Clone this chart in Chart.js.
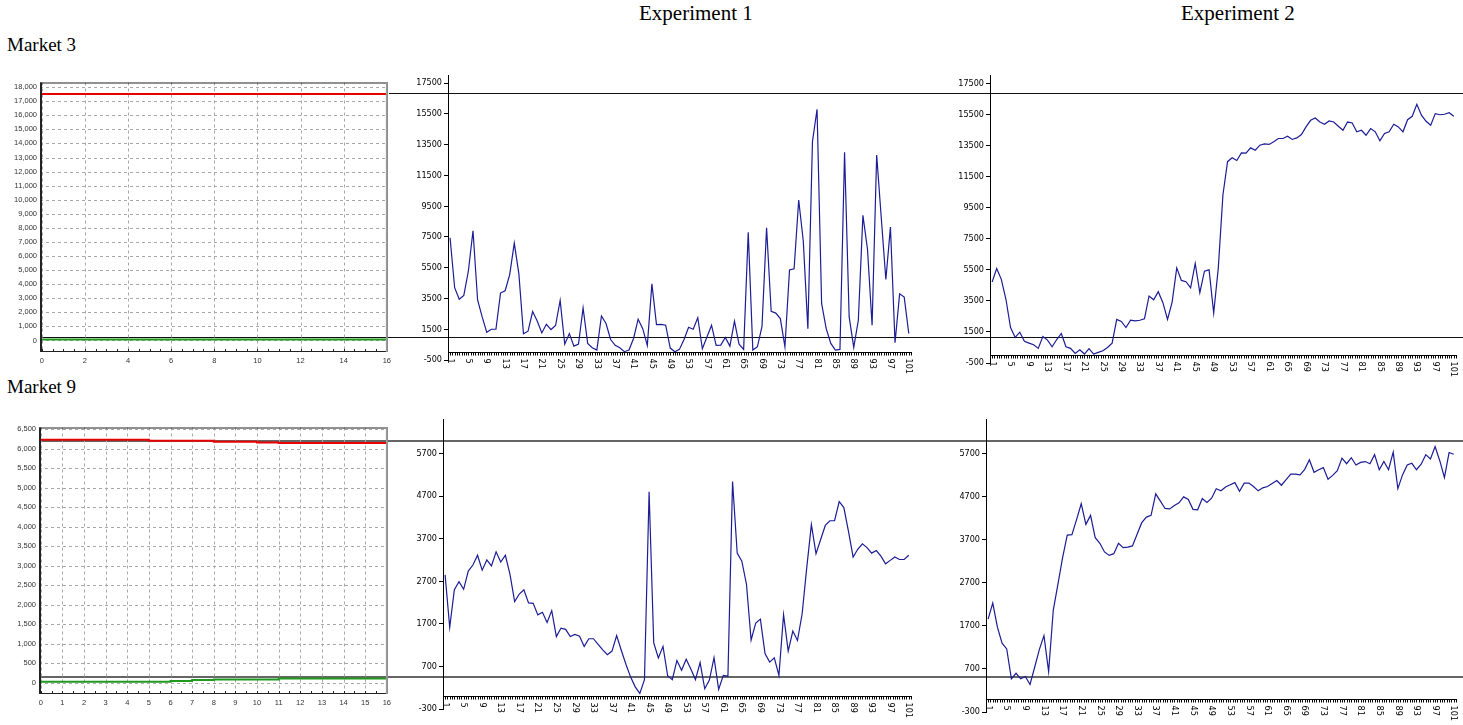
<!DOCTYPE html>
<html>
<head>
<meta charset="utf-8">
<title>Market 3 / Market 9 – Experiment 1 and 2</title>
<script src="https://cdn.jsdelivr.net/npm/chart.js@4.4.1/dist/chart.umd.min.js"></script>
<style>
    body{
        margin: 0;
        width: 1463px;
        height: 725px;
        overflow: hidden;
        background: #fff;
        position: relative;
        font-family: "Liberation Serif", "Times New Roman", serif;
    }
    canvas{ position: absolute; z-index: 2; }
    .title{ position: absolute; line-height: 21px; font-size: 21px; color: #000; white-space: nowrap; }
    .market{ position: absolute; line-height: 19px; font-size: 19px; color: #000; white-space: nowrap; }
    .hline{ position: absolute; z-index: 1; }
</style>
</head>
<body>
<div class="title" style="left:639px; top:3px;">Experiment 1</div>
<div class="title" style="left:1181px; top:3px;">Experiment 2</div>
<div class="market" style="left:7px; top:35px;">Market 3</div>
<div class="market" style="left:7px; top:377px;">Market 9</div>

<canvas id="m3Left" width="395" height="295" style="left:0px; top:75px;"></canvas>
<canvas id="m3Exp1" width="510" height="308" style="left:410px; top:68px;"></canvas>
<canvas id="m3Exp2" width="511" height="310" style="left:952px; top:68px;"></canvas>
<canvas id="m9Left" width="395" height="305" style="left:0px; top:420px;"></canvas>
<canvas id="m9Exp1" width="515" height="313" style="left:405px; top:412px;"></canvas>
<canvas id="m9Exp2" width="515" height="313" style="left:948px; top:412px;"></canvas>

<div class="hline" style="left:389px; top:93px; width:1074px; height:1px; background:#111;"></div>
<div class="hline" style="left:40px; top:337px; width:1423px; height:1px; background:#111;"></div>
<div class="hline" style="left:39px; top:440px; width:1424px; height:2px; background:#666;"></div>
<div class="hline" style="left:39px; top:676px; width:1424px; height:2px; background:#666;"></div>

<script>
// ---- left panels (step lines over 16 steps)
const steps = [0, 1, 2, 3, 4, 5, 6, 7, 8, 9, 10, 11, 12, 13, 14, 15, 16];
const m3Red   = [17520, 17520, 17520, 17520, 17520, 17520, 17520, 17520, 17520, 17520, 17520, 17520, 17520, 17520, 17520, 17520, 17520];
const m3Green = [60, 60, 60, 60, 60, 60, 60, 60, 60, 60, 60, 60, 60, 60, 60, 60, 60];
const m9Red   = [6230, 6230, 6230, 6230, 6230, 6205, 6205, 6205, 6180, 6180, 6160, 6145, 6145, 6145, 6145, 6145, 6145];
const m9Green = [20, 20, 20, 20, 20, 20, 40, 65, 80, 80, 80, 100, 100, 100, 100, 100, 100];
const m3XTicks = [0, 2, 4, 6, 8, 10, 12, 14, 16];
const m9XTicks = [0, 1, 2, 3, 4, 5, 6, 7, 8, 9, 10, 11, 12, 13, 14, 15, 16];
const m3LeftYTicks = [0, 1000, 2000, 3000, 4000, 5000, 6000, 7000, 8000, 9000, 10000, 11000, 12000, 13000, 14000, 15000, 16000, 17000, 18000];
const m9LeftYTicks = [0, 500, 1000, 1500, 2000, 2500, 3000, 3500, 4000, 4500, 5000, 5500, 6000, 6500];

// ---- experiment panels (periods 1..101)
const periods = Array.from({length: 101}, (_, i) => i + 1);
const periodLabels = periods.filter(p => (p - 1) % 4 === 0);
const m3ExpYTicks = [-500, 1500, 3500, 5500, 7500, 9500, 11500, 13500, 15500, 17500];
const m9ExpYTicks = [-300, 700, 1700, 2700, 3700, 4700, 5700];

const m3Exp1 = [
    7450, 4200, 3450, 3700, 5300, 7900, 3400, 2300, 1300, 1500,
    1500, 3850, 4000, 5050, 7100, 5100, 1200, 1370, 2650, 2040,
    1260, 1820, 1480, 1740, 3370, 530, 1220, 400, 530, 2880,
    575, 300, 145, 2360, 1870, 830, 450, 300, 40, 145,
    900, 2150, 1540, 450, 4450, 1800, 1820, 1760, 275, 40,
    190, 830, 1630, 1500, 2250, 230, 1000, 1760, 450, 470,
    960, 400, 2020, 530, 190, 7800, 145, 360, 1690, 8100,
    2660, 2550, 2190, 360, 5350, 5430, 9900, 7240, 1540, 13700,
    15800, 3160, 1540, 575, 145, 190, 13000, 2300, 320, 2080,
    8900, 6700, 1760, 12830, 8750, 4730, 8140, 620, 3800, 3590,
    1220
];
const m3Exp2 = [
    4700, 5580, 4880, 3600, 1780, 1140, 1480, 890, 780, 670,
    440, 1200, 970, 545, 1010, 1400, 545, 440, 120, 350,
    75, 420, 75, 180, 290, 500, 780, 2300, 2170, 1780,
    2250, 2210, 2250, 2340, 3810, 3570, 4090, 3380, 2300, 3420,
    5620, 4810, 4730, 4340, 5900, 4020, 5410, 5490, 2720, 5620,
    10310, 12450, 12700, 12530, 13020, 13000, 13340, 13190, 13510, 13600,
    13560, 13730, 13940, 13940, 14090, 13880, 13980, 14200, 14690, 15110,
    15260, 15000, 14860, 15070, 15000, 14730, 14470, 15000, 14940, 14370,
    14470, 14150, 14580, 14370, 13790, 14260, 14370, 14860, 14690, 14370,
    15150, 15370, 16140, 15440, 15050, 14800, 15540, 15470, 15500, 15600,
    15370
];
const m9Exp1 = [
    2850, 1620, 2500, 2690, 2510, 2940, 3080, 3310, 2960, 3200,
    3060, 3390, 3150, 3310, 2860, 2220, 2400, 2500, 2190, 2180,
    1910, 1970, 1730, 2010, 1400, 1600, 1570, 1400, 1450, 1410,
    1170, 1350, 1350, 1220, 1090, 975, 1060, 1425, 1080, 750,
    455, 220, 65, 390, 4800, 1250, 900, 1170, 480, 390,
    840, 610, 870, 640, 390, 790, 175, 380, 905, 160,
    490, 470, 5040, 3360, 3170, 2630, 1320, 1720, 1810, 1000,
    800, 900, 490, 1915, 1060, 1530, 1310, 1930, 3020, 4030,
    3345, 3680, 4010, 4120, 4120, 4570, 4430, 3870, 3270, 3450,
    3580, 3490, 3360, 3420, 3290, 3110, 3190, 3270, 3210, 3210,
    3310
];
const m9Exp2 = [
    1860, 2230, 1670, 1300, 1165, 470, 600, 470, 525, 340,
    740, 1150, 1475, 640, 2070, 2670, 3290, 3810, 3820, 4170,
    4540, 4060, 4270, 3750, 3620, 3420, 3340, 3380, 3620, 3520,
    3530, 3560, 3830, 4100, 4230, 4270, 4770, 4600, 4430, 4420,
    4500, 4560, 4700, 4640, 4410, 4400, 4660, 4570, 4670, 4890,
    4840, 4930, 4980, 5030, 4830, 5020, 5020, 4940, 4840, 4910,
    4940, 5010, 5080, 4970, 5100, 5230, 5230, 5210, 5340, 5560,
    5270, 5330, 5380, 5110, 5200, 5310, 5600, 5470, 5610, 5440,
    5500, 5520, 5470, 5680, 5330, 5520, 5330, 5740, 4890, 5210,
    5440, 5480, 5330, 5460, 5680, 5580, 5870, 5540, 5150, 5730,
    5690
];

const smallFont = {family: "'Liberation Sans', Arial, sans-serif", size: 7.5};
const narrowFamily = "'Liberation Sans Narrow', 'DejaVu Sans Condensed', sans-serif";

// dashed grid, frame and small bottom ticks of the left panels
const framePlugin = {
    id: 'frame',
    beforeDatasetsDraw(chart){
        const ctx = chart.ctx;
        const a = chart.chartArea;
        const x = chart.scales.x;
        const y = chart.scales.y;
        ctx.save();
        ctx.strokeStyle = '#a8a8a8';
        ctx.lineWidth = 1;
        ctx.setLineDash([3, 3]);
        ctx.beginPath();
        x.ticks.forEach(t => {
            const px = Math.round(x.getPixelForValue(t.value)) + 0.5;
            ctx.moveTo(px, a.top);
            ctx.lineTo(px, a.bottom);
        });
        y.ticks.forEach(t => {
            const py = Math.round(y.getPixelForValue(t.value)) + 0.5;
            ctx.moveTo(a.left, py);
            ctx.lineTo(a.right, py);
        });
        ctx.stroke();
        ctx.restore();
    },
    afterDraw(chart){
        const ctx = chart.ctx;
        const a = chart.chartArea;
        const x = chart.scales.x;
        ctx.save();
        ctx.strokeStyle = '#222';
        ctx.lineWidth = 1;
        ctx.beginPath();
        for(let t = 0; t <= 16; t += 0.5){
            const px = Math.round(x.getPixelForValue(t)) + 0.5;
            ctx.moveTo(px, a.bottom - 3);
            ctx.lineTo(px, a.bottom);
        }
        ctx.stroke();
        ctx.strokeRect(a.left + 0.5, a.top + 0.5, a.width - 1, a.height - 1);
        ctx.lineWidth = 2;
        ctx.beginPath();
        ctx.moveTo(a.left + 1, a.top);
        ctx.lineTo(a.left + 1, a.bottom);
        ctx.stroke();
        ctx.strokeStyle = '#9a9a9a';
        ctx.lineWidth = 2;
        ctx.beginPath();
        ctx.moveTo(a.right - 1, a.top);
        ctx.lineTo(a.right - 1, a.bottom);
        ctx.stroke();
        ctx.restore();
    }
};

// x axis of the experiment panels: sits at y = 0, ticks below, labels turned clockwise
const periodAxisPlugin = {
    id: 'periodAxis',
    afterDraw(chart){
        const ctx = chart.ctx;
        const a = chart.chartArea;
        const x = chart.scales.x;
        const y = chart.scales.y;
        const y0 = Math.round(y.getPixelForValue(0)) + 0.5;
        ctx.save();
        ctx.strokeStyle = '#000';
        ctx.lineWidth = 1;
        ctx.beginPath();
        ctx.moveTo(a.left, y0);
        ctx.lineTo(a.right, y0);
        for(let t = 1; t <= 101.5; t += 0.5){
            const px = Math.round(x.getPixelForValue(t)) + 0.5;
            ctx.moveTo(px, y0);
            ctx.lineTo(px, y0 + 3);
        }
        ctx.stroke();
        ctx.fillStyle = '#000';
        ctx.font = '9px ' + narrowFamily;
        ctx.textAlign = 'left';
        ctx.textBaseline = 'middle';
        periodLabels.forEach(p => {
            ctx.save();
            ctx.translate(x.getPixelForValue(p), y0 + 6);
            ctx.rotate(Math.PI / 2);
            ctx.fillText(String(p), 0, 0);
            ctx.restore();
        });
        ctx.restore();
    }
};

function leftChart(id, red, green, yMin, yMax, yTicks, xTicks, yWidth, xHeight, pad){
    return new Chart(document.getElementById(id), {
        type: 'line',
        data: {
            datasets: [
                {data: steps.map((s, i) => ({x: s, y: red[i]})), borderColor: '#e60000', borderWidth: 2, stepped: 'before', pointRadius: 0},
                {data: steps.map((s, i) => ({x: s, y: green[i]})), borderColor: '#1f9a1f', borderWidth: 2, stepped: 'before', pointRadius: 0}
            ]
        },
        options: {
            responsive: false,
            animation: false,
            layout: {padding: pad},
            plugins: {legend: {display: false}, tooltip: {enabled: false}},
            scales: {
                x: {
                    type: 'linear', min: -0.08, max: 16.05,
                    afterBuildTicks: s => { s.ticks = xTicks.map(v => ({value: v})); },
                    afterFit: s => { s.height = xHeight; },
                    grid: {display: false, drawTicks: false},
                    border: {display: false},
                    ticks: {font: smallFont, color: '#333', padding: 4, maxRotation: 0}
                },
                y: {
                    min: yMin, max: yMax,
                    afterBuildTicks: s => { s.ticks = yTicks.map(v => ({value: v})); },
                    afterFit: s => { s.width = yWidth; },
                    grid: {display: false, drawTicks: false},
                    border: {display: false},
                    ticks: {font: smallFont, color: '#333', padding: 3, callback: v => v.toLocaleString('en-US')}
                }
            }
        },
        plugins: [framePlugin]
    });
}

function expChart(id, values, yMin, yMax, yTicks, pad){
    return new Chart(document.getElementById(id), {
        type: 'line',
        data: {
            datasets: [{
                data: periods.map((p, i) => ({x: p, y: values[i]})),
                borderColor: '#1c1c96',
                borderWidth: 1.2,
                pointRadius: 0,
                tension: 0
            }]
        },
        options: {
            responsive: false,
            animation: false,
            layout: {padding: pad},
            plugins: {legend: {display: false}, tooltip: {enabled: false}},
            scales: {
                x: {type: 'linear', min: 0.55, max: 101.7, display: false},
                y: {
                    min: yMin, max: yMax,
                    afterBuildTicks: s => { s.ticks = yTicks.map(v => ({value: v})); },
                    afterFit: s => { s.width = 38; },
                    grid: {drawOnChartArea: false, tickLength: 4, color: '#000'},
                    border: {color: '#000', width: 1},
                    ticks: {font: {family: narrowFamily, size: 9}, color: '#000', padding: 2, callback: v => String(v)}
                }
            }
        },
        plugins: [periodAxisPlugin]
    });
}

leftChart('m3Left', m3Red, m3Green, -820, 18330, m3LeftYTicks, m3XTicks, 40, 18, {top: 5, right: 7});
leftChart('m9Left', m9Red, m9Green, -295, 6545, m9LeftYTicks, m9XTicks, 39, 31, {top: 5, right: 6});

expChart('m3Exp1', m3Exp1, -500, 18000, m3ExpYTicks, {top: 5, right: 8, bottom: 16});
expChart('m3Exp2', m3Exp2, -500, 18000, m3ExpYTicks, {top: 5, right: 6, bottom: 15});
expChart('m9Exp1', m9Exp1, -300, 6500, m9ExpYTicks, {top: 5, right: 8, bottom: 16});
expChart('m9Exp2', m9Exp2, -300, 6500, m9ExpYTicks, {top: 6, right: 6, bottom: 13});
</script>
</body>
</html>
